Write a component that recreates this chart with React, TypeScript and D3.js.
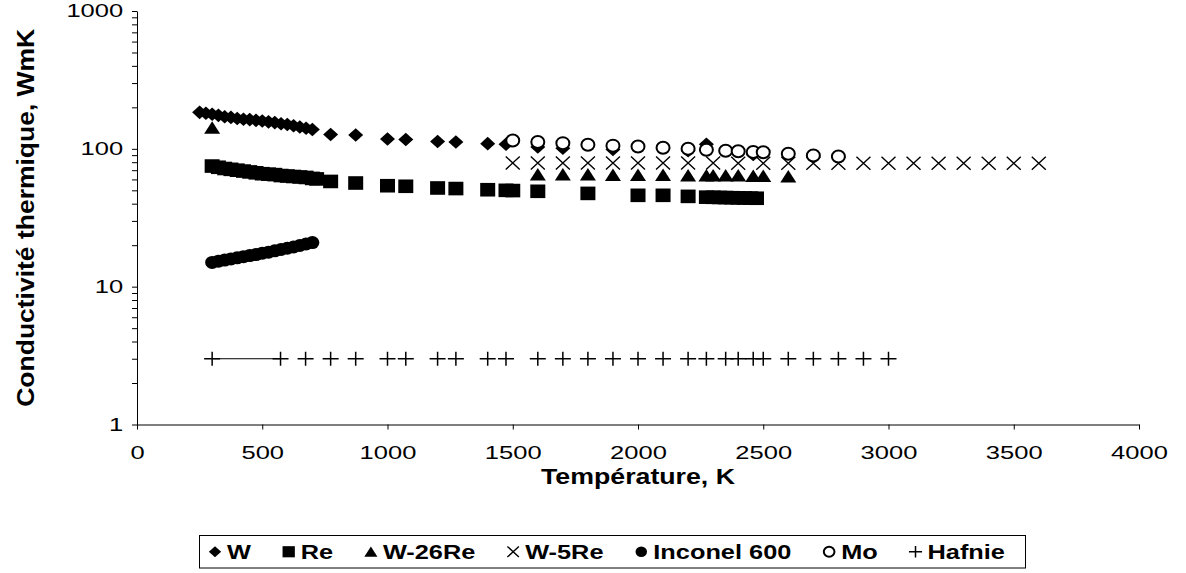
import React, { useEffect, useRef } from "react";
import * as d3 from "d3";

// Températures (K) et conductivités (W/mK)
const tempW = [250, 275, 300, 325, 350, 375, 400, 425, 450, 475, 500, 525, 550, 575, 600, 625, 650, 675, 700, 773, 873, 1000, 1073, 1200, 1273, 1400, 1473, 1600, 1700, 1900, 2200, 2273, 2460];
const condW = [184, 181, 178, 175, 171, 169, 166, 164, 163, 161, 159, 157, 155, 152, 150, 147, 144, 141, 138, 127, 126, 118, 117, 113, 112, 109, 108, 103, 101, 99, 97, 108, 91];

const tempRe = [300, 325, 350, 375, 400, 425, 450, 475, 500, 525, 550, 575, 600, 625, 650, 675, 700, 717, 773, 873, 1000, 1073, 1200, 1273, 1400, 1473, 1500, 1600, 1800, 2000, 2100, 2200, 2273, 2300, 2325, 2350, 2375, 2400, 2425, 2450, 2473];
const condRe = [75, 73.5, 72, 71, 70, 69, 68, 67, 66, 65.5, 65, 64, 63.5, 63, 62.5, 62, 61, 60.5, 58, 56.5, 54, 53.5, 52, 51.5, 50.5, 50, 49.8, 49.2, 47.5, 46, 46, 45.2, 44.6, 44.5, 44.4, 44.3, 44.2, 44.1, 44, 43.9, 43.8];

const tempW26Re = [300, 1600, 1700, 1800, 1900, 2000, 2100, 2200, 2273, 2300, 2350, 2400, 2460, 2500, 2600];
const condW26Re = [142, 65, 65, 65, 64.5, 64.5, 64.5, 64, 64, 64, 64, 64, 63.5, 63.5, 63];

const tempW5Re = [1500, 1600, 1700, 1800, 1900, 2000, 2100, 2200, 2300, 2400, 2500, 2600, 2700, 2800, 2900, 3000, 3100, 3200, 3300, 3400, 3500, 3600];
const condW5Re = [79, 79, 79, 79, 79, 79, 79, 79, 79, 78.5, 78.5, 78.5, 78.5, 78.5, 78.5, 78.5, 78.5, 78.5, 78.5, 78.5, 78.5, 78.5];

const tempInconel = [300, 325, 350, 375, 400, 425, 450, 475, 500, 525, 550, 575, 600, 625, 650, 675, 700];
const condInconel = [15.0, 15.3, 15.6, 15.9, 16.2, 16.5, 16.8, 17.1, 17.5, 17.8, 18.2, 18.6, 19.0, 19.4, 19.9, 20.4, 20.9];

const tempMo = [1500, 1600, 1700, 1800, 1900, 2000, 2100, 2200, 2273, 2350, 2400, 2460, 2500, 2600, 2700, 2800];
const condMo = [115, 112, 110, 107, 105.5, 104, 102, 100, 98.5, 97, 96, 95, 94.5, 92, 89.5, 88];

const tempHafnie = [300, 573, 673, 773, 873, 1000, 1073, 1200, 1273, 1400, 1473, 1600, 1700, 1800, 1900, 2000, 2100, 2200, 2273, 2350, 2400, 2460, 2500, 2600, 2700, 2800, 2900, 3000];
const condHafnie = [3, 3, 3, 3, 3, 3, 3, 3, 3, 3, 3, 3, 3, 3, 3, 3, 3, 3, 3, 3, 3, 3, 3, 3, 3, 3, 3, 3];
// trait continu entre les deux premiers points de la hafnie
const tempHafnieTrait = [300, 573];

const xTicks = [0, 500, 1000, 1500, 2000, 2500, 3000, 3500, 4000];
const yDecades = [1, 10, 100, 1000];
const legendNames = ["W", "Re", "W-26Re", "W-5Re", "Inconel 600", "Mo", "Hafnie"];

const FONT = "'Liberation Sans', Arial, sans-serif";
const STRETCH = 1.38;

type Shape = "diamond" | "square" | "triangle" | "cross" | "dot" | "circle" | "plus";

const drawMarker = (g: any, shape: Shape, s: number) => {
  const hw = 7.5 * s, hh = 6.8 * s;
  if (shape === "diamond") {
    g.append("path").attr("d", `M0,${-hh}L${hw},0L0,${hh}L${-hw},0Z`).attr("fill", "#000");
  } else if (shape === "square") {
    g.append("rect").attr("x", -hw).attr("y", -hh).attr("width", 2 * hw).attr("height", 2 * hh).attr("fill", "#000");
  } else if (shape === "triangle") {
    g.append("path").attr("d", `M0,${-6.5 * s}L${8 * s},${6 * s}L${-8 * s},${6 * s}Z`).attr("fill", "#000");
  } else if (shape === "cross") {
    g.append("path").attr("d", `M${-7 * s},${-6.5 * s}L${7 * s},${6.5 * s}M${-7 * s},${6.5 * s}L${7 * s},${-6.5 * s}`)
      .attr("stroke", "#000").attr("stroke-width", 1.4).attr("fill", "none");
  } else if (shape === "dot") {
    g.append("ellipse").attr("rx", 7 * s).attr("ry", 6.5 * s).attr("fill", "#000");
  } else if (shape === "circle") {
    g.append("ellipse").attr("rx", 6.5 * s).attr("ry", 6 * s).attr("fill", "#fff").attr("stroke", "#000").attr("stroke-width", 2);
  } else {
    g.append("path").attr("d", `M${-8 * s},0L${8 * s},0M0,${-7 * s}L0,${7 * s}`)
      .attr("stroke", "#000").attr("stroke-width", 1.5).attr("fill", "none");
  }
};

const App = () => {
  const ref = useRef<SVGSVGElement>(null);

  useEffect(() => {
    const svg = d3.select(ref.current);
    svg.selectAll("*").remove();

    const x = d3.scaleLinear().domain([0, 4000]).range([137, 1139]);
    const y = d3.scaleLog().domain([1, 1000]).range([424.5, 11]);

    // axe Y (log) avec graduations secondaires
    const yTickValues: number[] = [];
    yDecades.slice(0, 3).forEach(d => {
      for (let k = 1; k <= 9; k++) yTickValues.push(d * k);
    });
    yTickValues.push(1000);

    const yAxis = svg.append("g")
      .attr("transform", `translate(${x(0)},0)`)
      .call(d3.axisLeft(y).tickValues(yTickValues).tickSize(5).tickSizeOuter(0)
        .tickFormat((d: any) => (yDecades.includes(+d) ? String(d) : "")));
    yAxis.selectAll("text")
      .attr("x", -10)
      .attr("transform", `scale(${STRETCH},1)`)
      .style("font-family", FONT).style("font-size", "18.5px").attr("fill", "#000");
    yAxis.selectAll("line, path").attr("stroke", "#000");

    const xAxis = svg.append("g")
      .attr("transform", `translate(0,${y(1)})`)
      .call(d3.axisBottom(x).tickValues(xTicks).tickSize(5).tickSizeOuter(0).tickFormat(d3.format("d")));
    xAxis.selectAll("text")
      .attr("y", 21)
      .attr("transform", `scale(${STRETCH},1)`)
      .style("font-family", FONT).style("font-size", "18.5px").attr("fill", "#000");
    xAxis.selectAll("line, path").attr("stroke", "#000");

    // titres des axes
    svg.append("text")
      .attr("x", (x(0) + x(4000)) / 2).attr("y", 484)
      .attr("text-anchor", "middle")
      .attr("textLength", 194).attr("lengthAdjust", "spacingAndGlyphs")
      .style("font-family", FONT).style("font-size", "22px").style("font-weight", "bold")
      .text("Température, K");

    svg.append("text")
      .attr("transform", `translate(34,${(y(1) + y(1000)) / 2}) rotate(-90)`)
      .attr("text-anchor", "middle")
      .attr("textLength", 378).attr("lengthAdjust", "spacingAndGlyphs")
      .style("font-family", FONT).style("font-size", "24px").style("font-weight", "bold")
      .text("Conductivité thermique, WmK");

    // séries
    const plot = svg.append("g");
    const series: [number[], number[], Shape][] = [
      [tempW, condW, "diamond"],
      [tempRe, condRe, "square"],
      [tempW26Re, condW26Re, "triangle"],
      [tempW5Re, condW5Re, "cross"],
      [tempInconel, condInconel, "dot"],
      [tempMo, condMo, "circle"],
      [tempHafnie, condHafnie, "plus"],
    ];

    plot.append("path")
      .attr("d", d3.line<number>().x(t => x(t)).y(() => y(condHafnie[0]))(tempHafnieTrait))
      .attr("stroke", "#000").attr("stroke-width", 1).attr("fill", "none");

    series.forEach(([temps, vals, shape]) => {
      temps.forEach((t, i) => {
        const g = plot.append("g").attr("transform", `translate(${x(t)},${y(vals[i])})`);
        drawMarker(g, shape, 1);
      });
    });

    // légende
    const legend = svg.append("g");
    const shapes: Shape[] = ["diamond", "square", "triangle", "cross", "dot", "circle", "plus"];
    const boxLeft = 199, boxRight = 1025, boxTop = 535.5, boxBottom = 568;
    const midY = (boxTop + boxBottom) / 2;
    const pad = 16, textOffset = 12;
    const legendStretch = 1.3;

    const texts = legendNames.map(name =>
      legend.append("text")
        .attr("y", midY + 7)
        .style("font-family", FONT).style("font-size", "19.5px").style("font-weight", "bold")
        .text(name)
    );
    const widths = texts.map(t => (t.node() as SVGTextElement).getComputedTextLength() * legendStretch);
    const used = widths.reduce((a, b) => a + b, 0) + legendNames.length * textOffset;
    const gap = (boxRight - boxLeft - 2 * pad - used - 4) / (legendNames.length - 1);

    let cx = boxLeft + pad;
    legendNames.forEach((_, i) => {
      const g = legend.append("g").attr("transform", `translate(${cx},${midY})`);
      drawMarker(g, shapes[i], 0.82);
      texts[i].attr("transform", `translate(${cx + textOffset},0) scale(${legendStretch},1)`);
      cx += textOffset + widths[i] + gap;
    });

    legend.append("rect")
      .attr("x", boxLeft + 0.5).attr("y", boxTop)
      .attr("width", boxRight - boxLeft).attr("height", boxBottom - boxTop)
      .attr("fill", "none").attr("stroke", "#000").attr("stroke-width", 1);
  }, []);

  return (
    <svg
      ref={ref}
      width={1186}
      height={573}
      style={{ position: "absolute", left: 0, top: 0, background: "#fff" }}
    />
  );
};

export default App;
